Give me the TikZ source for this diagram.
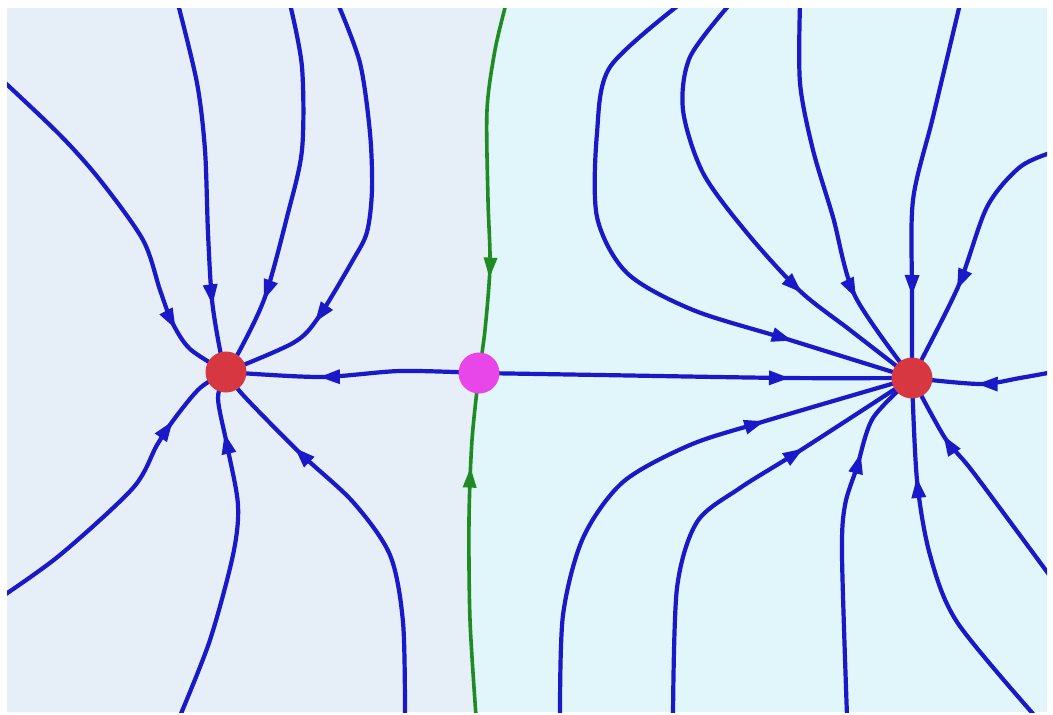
\documentclass[tikz,border=0pt]{standalone}
\usetikzlibrary{decorations.markings}
\definecolor{lbg}{RGB}{230,238,248}
\definecolor{rbg}{RGB}{225,246,250}
\definecolor{flowblue}{RGB}{25,25,200}
\definecolor{sepgreen}{RGB}{30,140,35}
\definecolor{sinkred}{RGB}{215,55,65}
\definecolor{saddlemag}{RGB}{232,70,232}
\pgfdeclarelayer{back}\pgfdeclarelayer{mid}\pgfsetlayers{back,mid,main}
\tikzset{
  flow/.style={flowblue, line width=4.2pt, line cap=round, postaction={decorate},
    decoration={markings, mark=at position #1 with {\fill[flowblue] (2pt,0pt) -- (-18pt,7.5pt) -- (-18pt,-7.5pt) -- cycle;}}},
  sep/.style={sepgreen, line width=3.6pt, line cap=round, postaction={decorate},
    decoration={markings, mark=at position #1 with {\fill[sepgreen] (2pt,0pt) -- (-18pt,7pt) -- (-18pt,-7pt) -- cycle;}}},
  sink/.style={circle, fill=sinkred, minimum size=41pt, inner sep=0pt},
  saddlept/.style={circle, fill=saddlemag, minimum size=41pt, inner sep=0pt},
}
\begin{document}
\begin{tikzpicture}[x=1pt,y=-1pt]
\useasboundingbox (0,0) rectangle (1053,715);
\node[sink] (L) at (226,372) {};
\node[saddlept] (S) at (479,373) {};
\node[sink] (R) at (912,378) {};
\begin{pgfonlayer}{back}
  \fill[white] (0,0) rectangle (1053,715);
  \fill[rbg] (7,8) rectangle (1047,712);
  \fill[lbg] (7,8) -- plot[smooth] coordinates {(505,8) (495,50) (487,110) (488,200) (490,265) (485,330) (479,373) (472,440) (469,520) (470,620) (475,712)} -- (7,712) -- cycle;
\end{pgfonlayer}
\begin{pgfonlayer}{mid}
\begin{scope}
\clip (7,8) rectangle (1047,712);
% separatrix
\draw[sep=-98pt] plot[smooth] coordinates {(506,4) (495,50) (487,110) (488,200) (490,265) (485,330) (S.center)};
\draw[sep=-97pt] plot[smooth] coordinates {(476,716) (470,620) (469,520) (472,440) (S.center)};
% left sink
\draw[flow=-70pt] plot[smooth] coordinates {(0,78) (60,135) (100,180) (143,240) (160,290) (172,322) (190,349) (L.center)};
\draw[flow=-71pt] plot[smooth] coordinates {(178,4) (197,83) (205,150) (208,233) (212,300) (220,350) (L.center)};
\draw[flow=-84pt] plot[smooth] coordinates {(290,4) (302,67) (302,150) (287,217) (265,297) (240,350) (L.center)};
\draw[flow=-106pt] plot[smooth] coordinates {(338,4) (360,63) (370,133) (372,190) (367,232) (353,260) (318,318) (293,343) (L.center)};
\draw[flow=-76pt] plot[smooth] coordinates {(0,598) (60,555) (133,488) (157,445) (175,418) (200,388) (L.center)};
\draw[flow=-66pt] plot[smooth] coordinates {(180,716) (210,640) (233,555) (238,505) (227,445) (218,398) (L.center)};
\draw[flow=-105pt] plot[smooth] coordinates {(405,716) (403,622) (390,555) (353,502) (300,453) (243,395) (L.center)};
\draw[flow=-96pt] plot[smooth] coordinates {(S.center) (400,371) (320,377) (L.center)};
% right sink
\draw[flow=-128pt] plot[smooth] coordinates {(680,4) (610,67) (597,133) (597,217) (627,273) (693,310) (790,340) (R.center)};
\draw[flow=-142pt] plot[smooth] coordinates {(730,4) (690,57) (683,110) (703,173) (747,233) (800,291) (850,330) (R.center)};
\draw[flow=-100pt] plot[smooth] coordinates {(800,4) (800,83) (813,150) (833,217) (855,296) (R.center)};
\draw[flow=-85pt] plot[smooth] coordinates {(960,4) (933,117) (913,200) (912,293) (R.center)};
\draw[flow=-102pt] plot[smooth] coordinates {(1053,152) (1020,167) (987,207) (958,287) (R.center)};
\draw[flow=-125pt] plot[smooth] coordinates {(S.center) (600,375) (787,378) (R.center)};
\draw[flow=-68pt] plot[smooth] coordinates {(1053,372) (1020,378) (980,384) (R.center)};
\draw[flow=-156pt] plot[smooth] coordinates {(560,716) (563,615) (583,538) (623,482) (690,445) (762,422) (R.center)};
\draw[flow=-132pt] plot[smooth] coordinates {(673,716) (677,588) (697,522) (740,488) (801,450) (R.center)};
\draw[flow=-96pt] plot[smooth] coordinates {(847,716) (842,555) (845,505) (857,467) (873,418) (R.center)};
\draw[flow=-102pt] plot[smooth] coordinates {(1035,716) (957,622) (930,555) (917,480) (R.center)};
\draw[flow=-68pt] plot[smooth] coordinates {(1053,580) (973,472) (945,438) (R.center)};
\end{scope}
\end{pgfonlayer}
\end{tikzpicture}
\end{document}
